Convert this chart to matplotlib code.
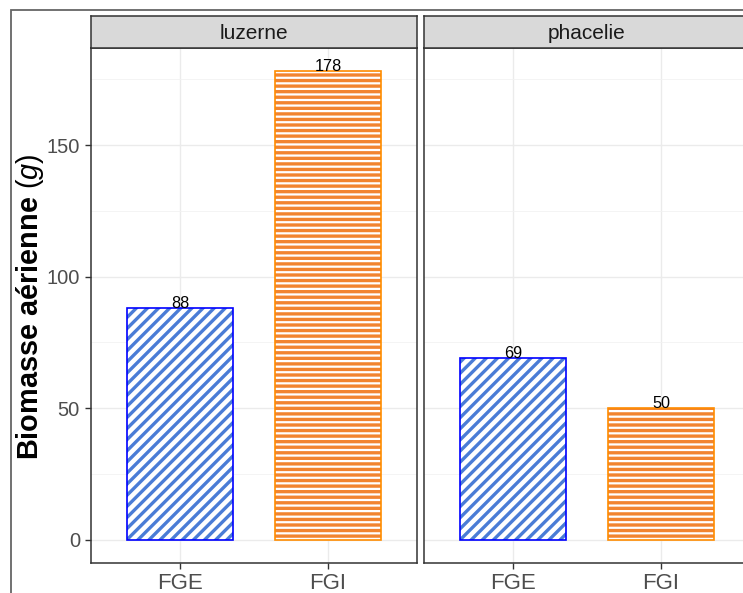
import matplotlib
matplotlib.use("Agg")
import matplotlib.pyplot as plt
from matplotlib.patches import Rectangle
from matplotlib.ticker import MultipleLocator

# Données
panneaux = ["luzerne", "phacelie"]
traitements = ["FGE", "FGI"]
biomasse_luzerne = [88, 178]
biomasse_phacelie = [69, 50]
valeurs = [biomasse_luzerne, biomasse_phacelie]

# Styles
hachures = ["///", "---"]
couleur_hachure = ["#4A7CD6", "#F2842F"]
couleur_bord = ["#0000FF", "#FF8C00"]

plt.rcParams["font.family"] = ["Liberation Sans", "DejaVu Sans"]
plt.rcParams["mathtext.fontset"] = "custom"
plt.rcParams["mathtext.it"] = "Liberation Sans:italic"
plt.rcParams["mathtext.rm"] = "Liberation Sans"
plt.rcParams["hatch.linewidth"] = 2.4

fig = plt.figure(figsize=(7.43, 5.93), dpi=100)
W, H = 743, 593

ymax = max(max(v) for v in valeurs)
ylim = (-0.05 * ymax, 1.05 * ymax)

# cadre extérieur (coupé à droite et en bas)
fig.add_artist(Rectangle((11 / W, -0.2), 1.2, 1.2 - 10 / H,
                         transform=fig.transFigure, fill=False,
                         edgecolor="#666666", linewidth=1.3, clip_on=False))

gauches = [91, 424]
largeur = 326
bas, haut = 563, 48

for i, nom in enumerate(panneaux):
    ax = fig.add_axes([gauches[i] / W, 1 - bas / H, largeur / W, (bas - haut) / H])
    x = list(range(1, len(traitements) + 1))
    for j, (xx, v) in enumerate(zip(x, valeurs[i])):
        ax.bar(xx, v, width=0.72, color="white", edgecolor=couleur_hachure[j],
               hatch=hachures[j], linewidth=0, zorder=2)
        ax.bar(xx, v, width=0.72, facecolor="none", edgecolor=couleur_bord[j],
               linewidth=1.2, zorder=3)
        ax.text(xx, v, str(v), ha="center", va="baseline", fontsize=11.7,
                color="black", zorder=4)
    ax.set_xlim(0.4, 2.6)
    ax.set_ylim(*ylim)
    ax.set_xticks(x)
    ax.set_xticklabels(traitements)
    ax.yaxis.set_major_locator(MultipleLocator(50))
    ax.yaxis.set_minor_locator(MultipleLocator(25))
    ax.grid(True, which="major", color="#EBEBEB", linewidth=1.0, zorder=0)
    ax.grid(True, which="minor", axis="y", color="#F2F2F2", linewidth=0.6, zorder=0)
    ax.set_axisbelow(True)
    ax.tick_params(axis="both", which="major", length=4, width=1, color="#333333",
                   labelcolor="#4D4D4D", labelsize=14.5, pad=4)
    ax.tick_params(axis="x", labelsize=16, pad=3)
    ax.tick_params(which="minor", length=0)
    for s in ax.spines.values():
        s.set_color("#333333")
        s.set_linewidth(1.1)
    if i == 0:
        ax.set_ylabel(r"Biomasse aérienne $\mathit{(g)}$", fontsize=20.8,
                      fontweight="bold")
        ax.yaxis.set_label_coords(-0.138, 0.497)
    else:
        ax.tick_params(axis="y", left=False, labelleft=False)

    # bandeau
    sax = fig.add_axes([gauches[i] / W, 1 - haut / H, largeur / W, 32 / H])
    sax.set_facecolor("#D9D9D9")
    sax.set_xticks([])
    sax.set_yticks([])
    for s in sax.spines.values():
        s.set_color("#333333")
        s.set_linewidth(1.1)
    sax.text(0.5, 0.45, nom, ha="center", va="center", fontsize=15,
             color="#1A1A1A", transform=sax.transAxes)

fig.savefig("out.png", dpi=100)
